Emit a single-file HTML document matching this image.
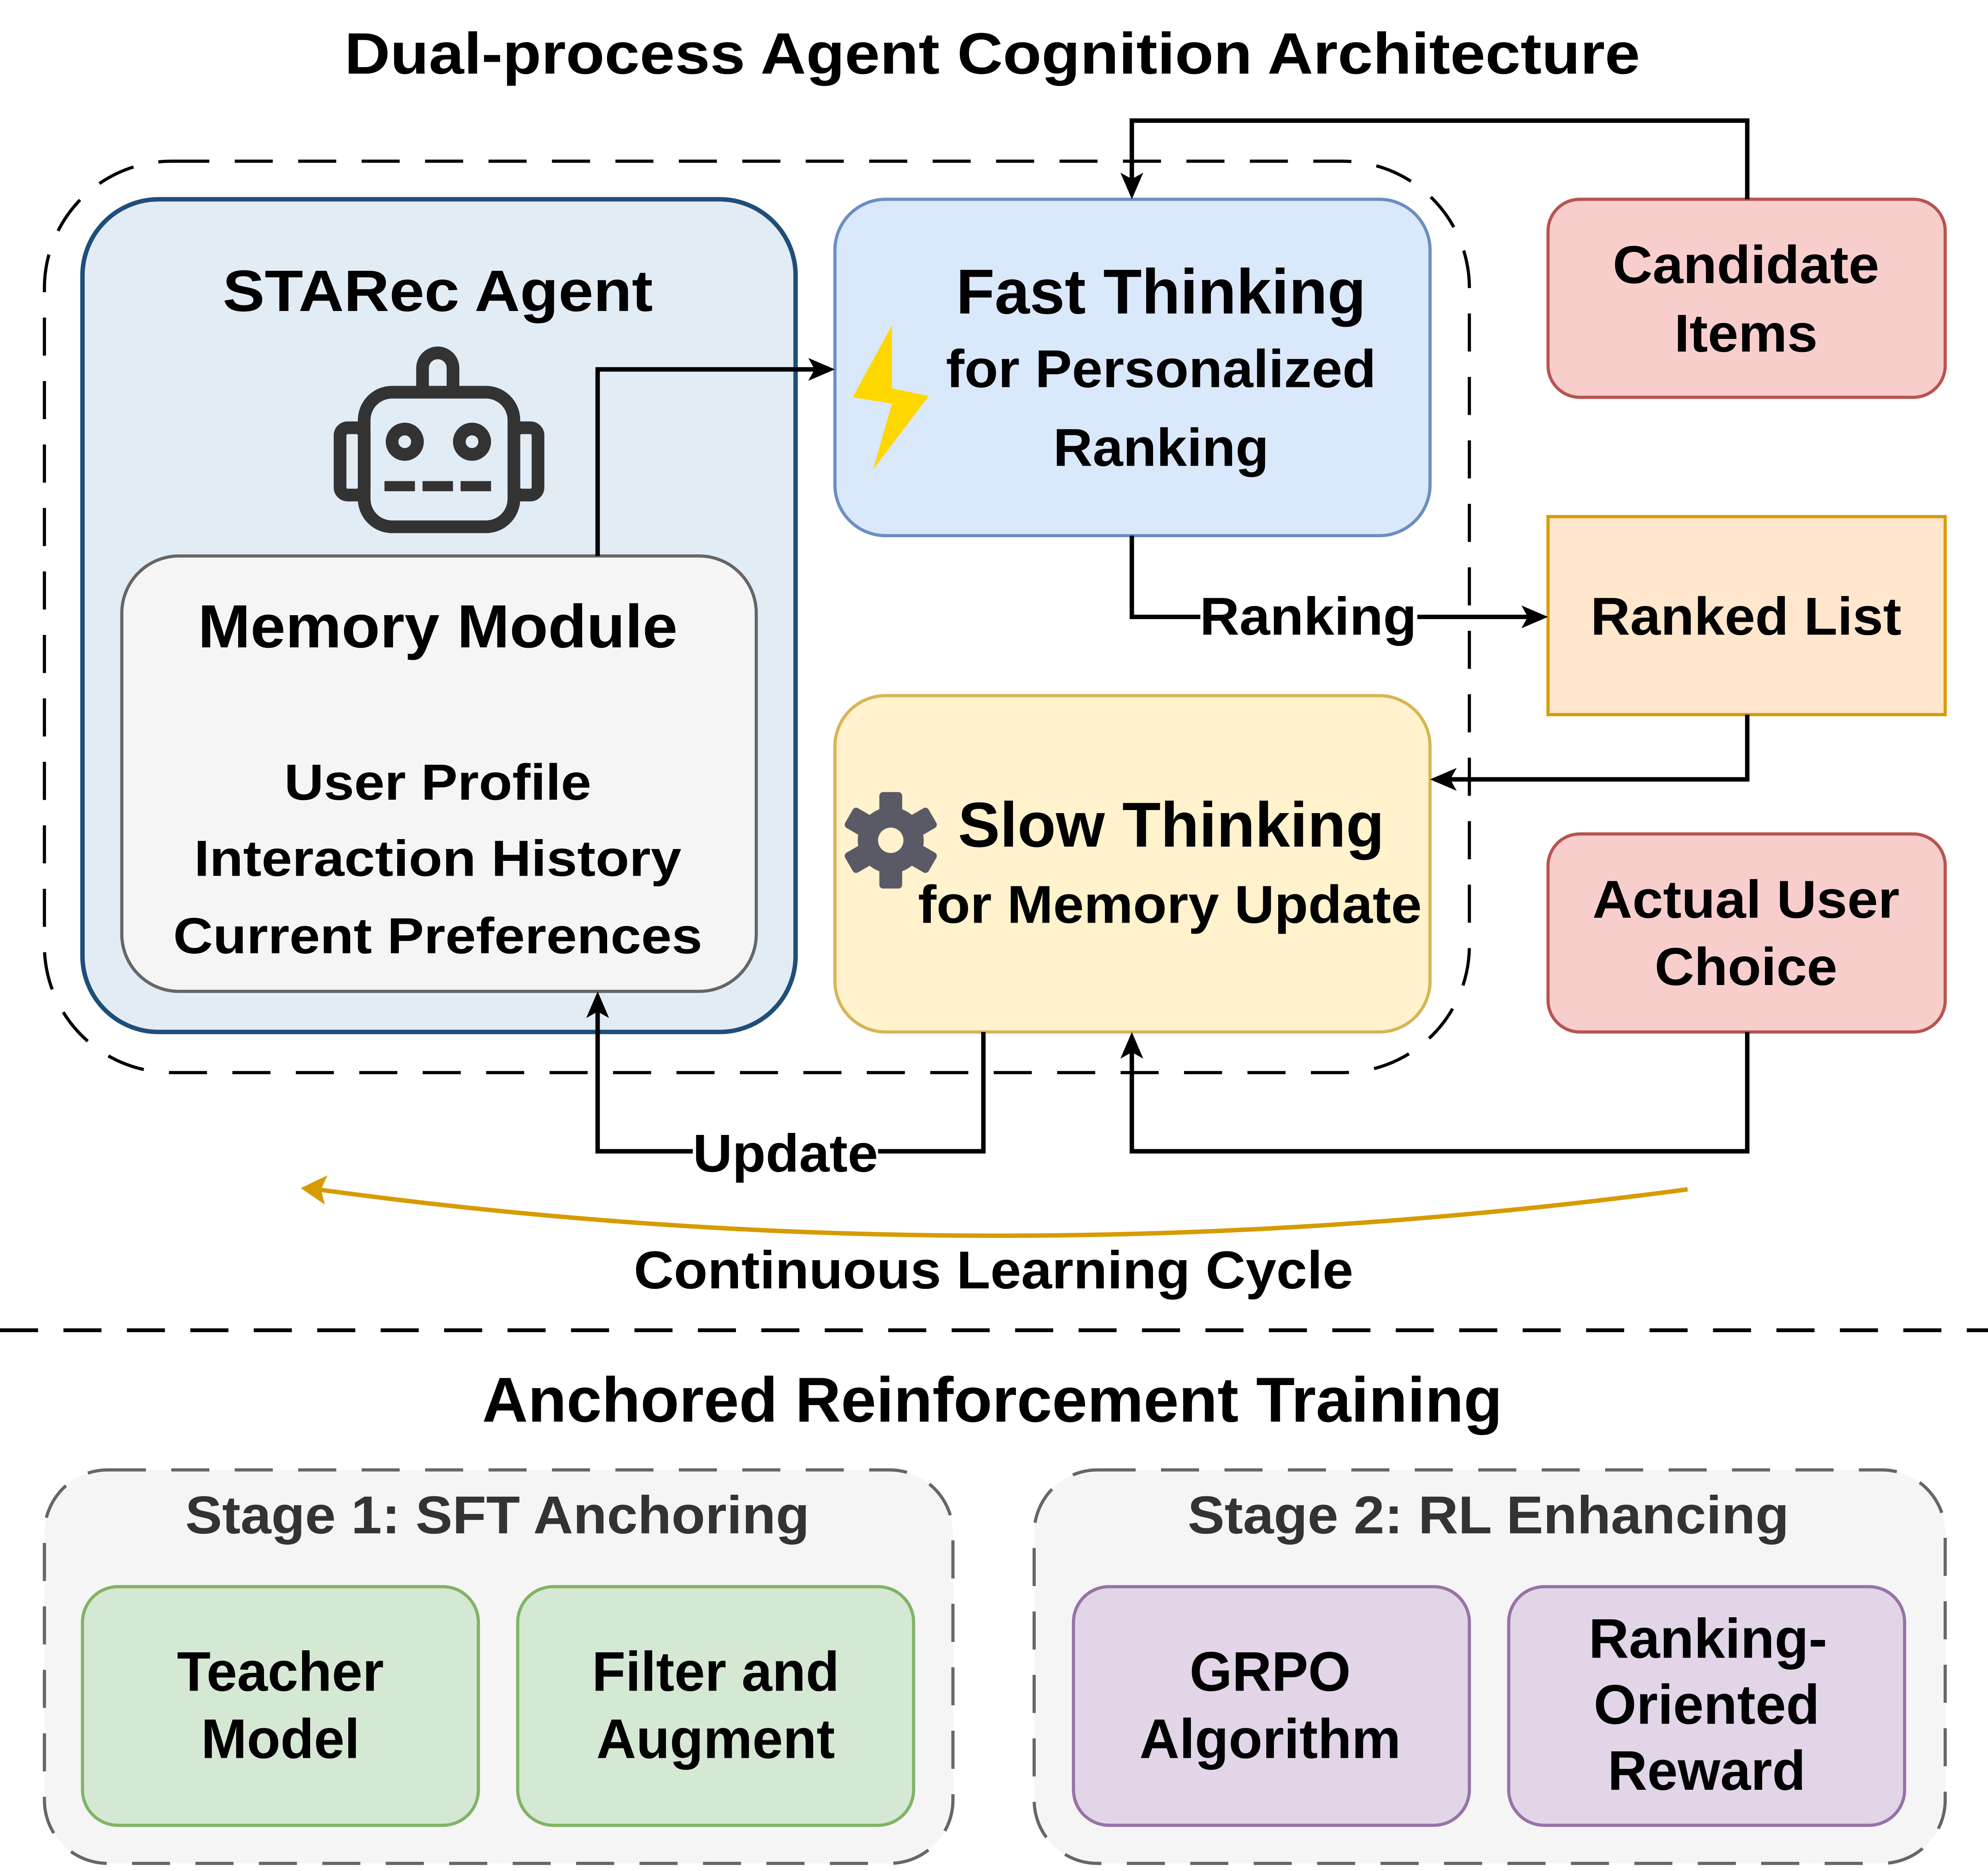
<!DOCTYPE html>
<html><head><meta charset="utf-8"><style>
html,body{margin:0;padding:0;background:#fff;}
svg{display:block;}
text{font-family:"Liberation Sans",Arial,sans-serif;font-weight:bold;text-anchor:middle;fill:#000;}
</style></head><body>
<svg width="5020" height="4705" viewBox="0 0 1573 1474" preserveAspectRatio="none" xmlns="http://www.w3.org/2000/svg">
<rect width="1573" height="1474" fill="#fff"/>
<text x="782" y="58" font-size="46" textLength="1021" lengthAdjust="spacingAndGlyphs">Dual-process Agent Cognition Architecture</text>

<rect x="35" y="127" width="1123" height="718" rx="100" fill="none" stroke="#000" stroke-width="2.5" stroke-dasharray="30 20"/>

<rect x="65" y="157" width="562" height="656" rx="60" fill="#e2ecf5" stroke="#1f4e79" stroke-width="3.5"/>
<text x="345" y="245" font-size="46" textLength="339" lengthAdjust="spacingAndGlyphs">STARec Agent</text>
<g fill="none" stroke="#333" stroke-width="10">
<rect x="287" y="309" width="118" height="106" rx="22"/>
<path d="M333 309 V290 a12 12 0 0 1 24 0 V309"/>
<rect x="268" y="337" width="19" height="53" rx="6"/>
<rect x="405" y="337" width="19" height="53" rx="6"/>
<circle cx="319" cy="348" r="10"/>
<circle cx="372" cy="348" r="10"/>
</g>
<g fill="#333">
<rect x="303" y="379" width="24" height="8"/>
<rect x="333" y="379" width="24" height="8"/>
<rect x="363" y="379" width="24" height="8"/>
</g>

<rect x="96" y="438" width="500" height="343" rx="45" fill="#f5f5f5" stroke="#666" stroke-width="2.5"/>
<text x="345" y="510" font-size="48" textLength="378" lengthAdjust="spacingAndGlyphs">Memory Module</text>
<text x="345" y="630" font-size="40" textLength="242" lengthAdjust="spacingAndGlyphs">User Profile</text>
<text x="345" y="690" font-size="40" textLength="384" lengthAdjust="spacingAndGlyphs">Interaction History</text>
<text x="345" y="751" font-size="40" textLength="417" lengthAdjust="spacingAndGlyphs">Current Preferences</text>

<rect x="658" y="157" width="469" height="265" rx="40" fill="#dae8fc" stroke="#6c8ebf" stroke-width="2.5"/>
<polygon points="703,256 672,313 703,318 688,370 732,312 703,306" fill="#ffd700"/>
<text x="915" y="247" font-size="50" textLength="323" lengthAdjust="spacingAndGlyphs">Fast Thinking</text>
<text x="915" y="305" font-size="42" textLength="339" lengthAdjust="spacingAndGlyphs">for Personalized</text>
<text x="915" y="367" font-size="42" textLength="170" lengthAdjust="spacingAndGlyphs">Ranking</text>

<rect x="658" y="548" width="469" height="265" rx="40" fill="#fff2cc" stroke="#d6b656" stroke-width="2.5"/>
<g transform="translate(702,662)" fill="#5a5a66">
<circle r="26"/>
<g id="t"><rect x="-9" y="-38" width="18" height="20" rx="3"/></g>
<use href="#t" transform="rotate(60)"/><use href="#t" transform="rotate(120)"/><use href="#t" transform="rotate(180)"/><use href="#t" transform="rotate(240)"/><use href="#t" transform="rotate(300)"/>
<circle r="10" fill="#fff2cc"/>
</g>
<text x="923" y="667" font-size="50" textLength="336" lengthAdjust="spacingAndGlyphs">Slow Thinking</text>
<text x="922" y="727" font-size="42" textLength="397" lengthAdjust="spacingAndGlyphs">for Memory Update</text>

<rect x="1220" y="157" width="313" height="156" rx="25" fill="#f8cecc" stroke="#b85450" stroke-width="2.5"/>
<text x="1376" y="223" font-size="42" textLength="210" lengthAdjust="spacingAndGlyphs">Candidate</text>
<text x="1376" y="277" font-size="42" textLength="113" lengthAdjust="spacingAndGlyphs">Items</text>
<rect x="1220" y="407" width="313" height="156" fill="#ffe6cc" stroke="#d79b00" stroke-width="2.5"/>
<text x="1376" y="500" font-size="42" textLength="245" lengthAdjust="spacingAndGlyphs">Ranked List</text>
<rect x="1220" y="657" width="313" height="156" rx="25" fill="#f8cecc" stroke="#b85450" stroke-width="2.5"/>
<text x="1376" y="723" font-size="42" textLength="242" lengthAdjust="spacingAndGlyphs">Actual User</text>
<text x="1376" y="776" font-size="42" textLength="144" lengthAdjust="spacingAndGlyphs">Choice</text>

<g fill="none" stroke="#000" stroke-width="3.5">
<path d="M1377 157 V95 H892 V145"/>
<path d="M471 438 V291 H646"/>
<path d="M892 422 V486 H1208"/>
<path d="M1377 563 V614 H1139"/>
<path d="M775 813 V907 H471 V793"/>
<path d="M1377 813 V907 H892 V825"/>
</g>
<g fill="#000">
<polygon points="892,157 883,136 892,141 901,136"/>
<polygon points="658,291 637,282 642,291 637,300"/>
<polygon points="1220,486 1199,477 1204,486 1199,495"/>
<polygon points="1127,614 1148,605 1143,614 1148,623"/>
<polygon points="471,781 462,802 471,797 480,802"/>
<polygon points="892,813 883,834 892,829 901,834"/>
</g>
<rect x="946" y="466" width="171" height="42" fill="#fff"/>
<text x="1031" y="500" font-size="42" textLength="171" lengthAdjust="spacingAndGlyphs">Ranking</text>
<rect x="546" y="890" width="146" height="42" fill="#fff"/>
<text x="619" y="923" font-size="42" textLength="146" lengthAdjust="spacingAndGlyphs">Update</text>

<path d="M1330 937 Q783 1010 250 937" fill="none" stroke="#d79b00" stroke-width="3.5"/>
<polygon points="237,936 258,926 253,937 256,949" fill="#d79b00"/>
<text x="783" y="1015" font-size="42" textLength="567" lengthAdjust="spacingAndGlyphs">Continuous Learning Cycle</text>

<line x1="0" y1="1048" x2="1573" y2="1048" stroke="#000" stroke-width="3" stroke-dasharray="30 20"/>
<text x="782" y="1120" font-size="50" textLength="804" lengthAdjust="spacingAndGlyphs">Anchored Reinforcement Training</text>

<rect x="35" y="1158" width="716" height="310" rx="50" fill="#f5f5f5" stroke="#666" stroke-width="2.5" stroke-dasharray="30 20"/>
<text x="392" y="1208" font-size="42" textLength="492" lengthAdjust="spacingAndGlyphs" style="fill:#333">Stage 1: SFT Anchoring</text>
<rect x="65" y="1250" width="312" height="188" rx="28" fill="#d5e8d4" stroke="#82b366" stroke-width="2.5"/>
<text x="221" y="1332" font-size="44" textLength="163" lengthAdjust="spacingAndGlyphs">Teacher</text>
<text x="221" y="1385" font-size="44" textLength="125" lengthAdjust="spacingAndGlyphs">Model</text>
<rect x="408" y="1250" width="312" height="188" rx="28" fill="#d5e8d4" stroke="#82b366" stroke-width="2.5"/>
<text x="564" y="1332" font-size="44" textLength="195" lengthAdjust="spacingAndGlyphs">Filter and</text>
<text x="564" y="1385" font-size="44" textLength="188" lengthAdjust="spacingAndGlyphs">Augment</text>

<rect x="815" y="1158" width="718" height="310" rx="50" fill="#f5f5f5" stroke="#666" stroke-width="2.5" stroke-dasharray="30 20"/>
<text x="1173" y="1208" font-size="42" textLength="474" lengthAdjust="spacingAndGlyphs" style="fill:#333">Stage 2: RL Enhancing</text>
<rect x="846" y="1250" width="312" height="188" rx="28" fill="#e1d5e7" stroke="#9673a6" stroke-width="2.5"/>
<text x="1001" y="1332" font-size="44" textLength="127" lengthAdjust="spacingAndGlyphs">GRPO</text>
<text x="1001" y="1385" font-size="44" textLength="206" lengthAdjust="spacingAndGlyphs">Algorithm</text>
<rect x="1189" y="1250" width="312" height="188" rx="28" fill="#e1d5e7" stroke="#9673a6" stroke-width="2.5"/>
<text x="1346" y="1306" font-size="44" textLength="188" lengthAdjust="spacingAndGlyphs">Ranking-</text>
<text x="1345" y="1358" font-size="44" textLength="178" lengthAdjust="spacingAndGlyphs">Oriented</text>
<text x="1345" y="1410" font-size="44" textLength="156" lengthAdjust="spacingAndGlyphs">Reward</text>
</svg>
</body></html>
